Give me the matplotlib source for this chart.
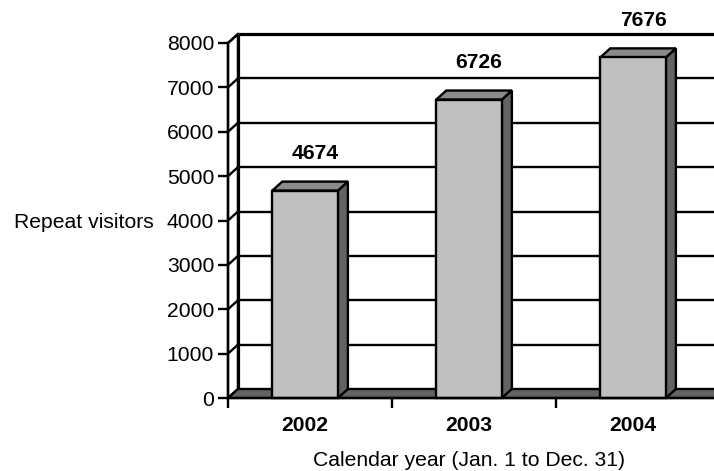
import matplotlib
matplotlib.use("Agg")
import matplotlib.pyplot as plt
from matplotlib.patches import Polygon

plt.rcParams["font.family"] = ["Liberation Sans", "DejaVu Sans"]

years = ["2002", "2003", "2004"]
visitors = [4674, 6726, 7676]
y_ticks = [0, 1000, 2000, 3000, 4000, 5000, 6000, 7000, 8000]

W, H = 714, 471
FS = 15.2
fig = plt.figure(figsize=(W / 100, H / 100), dpi=100)

# front plane of the 3-D box, in pixels
left_px, right_px, bottom_px, top_px = 228, 714, 398, 43
cat_px = 164
ax = fig.add_axes([left_px / W, (H - bottom_px) / H,
                   (right_px - left_px) / W, (bottom_px - top_px) / H])
xmax = (right_px - left_px) / cat_px
ymax = 8000
ax.set_xlim(0, xmax)
ax.set_ylim(0, ymax)

# depth of the box in data units (about 10 px right, 9 px up)
DX = 10 / cat_px
DY = 9 * ymax / (bottom_px - top_px)

LW = 1.7
FRONT = "#c0c0c0"
SIDE = "#636363"
TOP = "#8a8a8a"

# left wall
ax.add_patch(Polygon([(0, 0), (DX, DY), (DX, ymax + DY), (0, ymax)],
                     closed=True, facecolor="white", edgecolor="black",
                     lw=LW, clip_on=False, zorder=1))
# back wall outline
ax.plot([DX, DX, xmax + 0.1], [DY, ymax + DY, ymax + DY], color="black",
        lw=2.3, clip_on=False, zorder=2)
# gridlines on back wall and left wall
for v in y_ticks[1:-1]:
    ax.plot([DX, xmax + 0.1], [v + DY, v + DY], color="black", lw=LW,
            clip_on=False, zorder=2)
for v in y_ticks[1:]:
    ax.plot([0, DX], [v, v + DY], color="black", lw=LW, clip_on=False,
            zorder=2)

# floor
ax.add_patch(Polygon([(0, 0), (xmax + 0.1, 0), (xmax + 0.1, DY), (DX, DY)],
                     closed=True, facecolor=SIDE, edgecolor="black",
                     lw=LW, clip_on=False, zorder=3))

# bars
bw = 0.4
for i, v in enumerate(visitors):
    x0 = i + 0.47 - bw / 2
    x1 = x0 + bw
    ax.add_patch(Polygon([(x1, 0), (x1 + DX, DY), (x1 + DX, v + DY), (x1, v)],
                         closed=True, facecolor=SIDE, edgecolor="black",
                         lw=LW, clip_on=False, zorder=4))
    ax.add_patch(Polygon([(x0, v), (x0 + DX, v + DY), (x1 + DX, v + DY), (x1, v)],
                         closed=True, facecolor=TOP, edgecolor="black",
                         lw=LW, clip_on=False, zorder=4))
    ax.add_patch(Polygon([(x0, 0), (x1, 0), (x1, v), (x0, v)],
                         closed=True, facecolor=FRONT, edgecolor="black",
                         lw=LW, clip_on=False, zorder=5))
    ax.annotate(f"{v}", xy=((x0 + x1) / 2 + DX, v + DY),
                xytext=(0, 20), textcoords="offset points",
                ha="center", va="center", fontsize=FS, fontweight="bold",
                annotation_clip=False)

# axes
for side in ["top", "right"]:
    ax.spines[side].set_visible(False)
for side in ["left", "bottom"]:
    ax.spines[side].set_linewidth(LW)
    ax.spines[side].set_zorder(6)
ax.set_facecolor("none")
ax.set_yticks(y_ticks)
ax.tick_params(axis="y", direction="out", length=7, width=LW, pad=3,
               labelsize=FS)
ax.set_xticks(range(0, len(years)))
ax.set_xticklabels([])
ax.set_xticks([i + 0.47 for i in range(len(years))], minor=True)
ax.set_xticklabels(years, minor=True, fontsize=FS, fontweight="bold")
ax.tick_params(axis="x", which="major", direction="out", length=7, width=LW)
ax.tick_params(axis="x", which="minor", length=0, pad=13)

fig.text(14 / W, 1 - 222 / H, "Repeat visitors", fontsize=FS,
         ha="left", va="center")
fig.text(469 / W, 1 - 461 / H, "Calendar year (Jan. 1 to Dec. 31)",
         fontsize=FS, ha="center", va="center")

fig.savefig("out.png", dpi=100)
